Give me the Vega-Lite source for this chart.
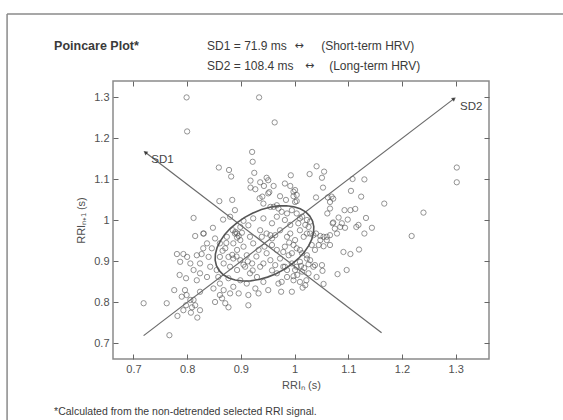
{
  "$schema": "https://vega.github.io/schema/vega-lite/v6.json",
  "autosize": "none",
  "width": 376,
  "height": 278,
  "padding": {"left": 113, "top": 81, "right": 74, "bottom": 61},
  "background": "white",
  "config": {
    "view": {"stroke": "#8a8a8a", "strokeWidth": 1.5},
    "font": "Liberation Sans",
    "axis": {"grid": false, "domain": false, "tickColor": "#666", "tickSize": -5, "tickWidth": 1, "labelFont": "Liberation Sans", "labelFontSize": 11, "labelColor": "#505050", "titleFont": "Liberation Sans", "titleFontSize": 11, "titleFontWeight": "normal", "titleColor": "#505050", "labelPadding": 9}
  },
  "datasets": {
    "points": [
      {"x":0.799,"y":1.300},{"x":0.934,"y":1.300},{"x":0.800,"y":1.217},{"x":0.963,"y":1.239},{"x":0.921,"y":1.167},{"x":0.922,"y":1.143},{"x":0.925,"y":1.116},{"x":0.859,"y":1.129},{"x":0.878,"y":1.123},{"x":0.882,"y":1.107},{"x":0.918,"y":1.097},{"x":0.918,"y":1.080},{"x":0.927,"y":1.076},{"x":0.936,"y":1.093},{"x":0.948,"y":1.104},{"x":0.943,"y":1.084},{"x":0.961,"y":1.084},{"x":0.982,"y":1.090},{"x":0.993,"y":1.110},{"x":0.992,"y":1.084},{"x":1.001,"y":1.074},{"x":1.028,"y":1.113},{"x":1.041,"y":1.132},{"x":1.051,"y":1.104},{"x":1.055,"y":1.119},{"x":1.053,"y":1.080},{"x":1.040,"y":1.056},{"x":1.062,"y":1.056},{"x":0.935,"y":1.054},{"x":0.940,"y":1.058},{"x":0.953,"y":1.069},{"x":0.973,"y":1.059},{"x":0.984,"y":1.050},{"x":0.998,"y":1.059},{"x":1.004,"y":1.047},{"x":0.860,"y":1.047},{"x":0.884,"y":1.050},{"x":0.889,"y":1.025},{"x":0.812,"y":1.006},{"x":0.848,"y":0.982},{"x":0.831,"y":0.968},{"x":0.867,"y":1.002},{"x":0.880,"y":1.009},{"x":0.905,"y":0.999},{"x":0.923,"y":1.005},{"x":0.942,"y":1.005},{"x":0.955,"y":1.033},{"x":0.967,"y":1.037},{"x":0.976,"y":1.021},{"x":0.986,"y":1.017},{"x":0.995,"y":1.025},{"x":1.010,"y":1.005},{"x":1.026,"y":0.984},{"x":1.040,"y":0.968},{"x":1.054,"y":0.960},{"x":0.893,"y":0.968},{"x":0.899,"y":0.984},{"x":0.914,"y":0.988},{"x":0.936,"y":0.976},{"x":0.955,"y":0.964},{"x":0.973,"y":0.976},{"x":0.992,"y":0.968},{"x":1.010,"y":0.976},{"x":0.917,"y":0.960},
      {"x":1.302,"y":1.129},{"x":1.302,"y":1.093},{"x":1.072,"y":1.053},{"x":1.066,"y":1.029},{"x":1.061,"y":1.017},{"x":1.108,"y":1.101},{"x":1.130,"y":1.100},{"x":1.105,"y":1.072},{"x":1.124,"y":1.058},{"x":1.167,"y":1.041},{"x":1.240,"y":1.019},{"x":1.218,"y":0.962},{"x":1.093,"y":1.025},{"x":1.104,"y":1.025},{"x":1.113,"y":1.028},{"x":1.099,"y":1.002},{"x":1.082,"y":1.007},{"x":1.071,"y":0.993},{"x":1.133,"y":1.006},{"x":1.085,"y":0.984},{"x":1.094,"y":0.982},{"x":1.075,"y":0.980},{"x":1.115,"y":0.984},{"x":1.144,"y":0.982},{"x":1.130,"y":0.968},{"x":1.079,"y":0.968},{"x":1.048,"y":0.962},{"x":1.023,"y":1.001},{"x":1.007,"y":0.993},
      {"x":1.091,"y":0.923},{"x":1.104,"y":0.918},{"x":1.120,"y":0.929},{"x":1.080,"y":0.869},{"x":1.097,"y":0.879},{"x":1.054,"y":0.845},{"x":1.015,"y":0.836},{"x":1.051,"y":0.891},{"x":1.052,"y":0.877},{"x":1.038,"y":0.891},{"x":1.026,"y":0.893},{"x":1.022,"y":0.854},{"x":1.005,"y":0.867},{"x":0.998,"y":0.864},{"x":0.986,"y":0.862},{"x":0.975,"y":0.826},{"x":1.060,"y":0.960},{"x":1.045,"y":0.940},{"x":1.054,"y":0.937},{"x":1.060,"y":0.952},{"x":0.998,"y":0.940},{"x":1.004,"y":0.932},{"x":1.014,"y":0.920},{"x":1.023,"y":0.915},{"x":1.029,"y":0.903},{"x":1.010,"y":0.899},{"x":0.979,"y":0.923},{"x":0.989,"y":0.915},{"x":0.995,"y":0.895},{"x":0.979,"y":0.887},{"x":0.986,"y":0.879},{"x":1.001,"y":0.879},{"x":1.014,"y":0.875},{"x":1.023,"y":0.968},{"x":1.035,"y":0.964},
      {"x":0.719,"y":0.798},{"x":0.762,"y":0.798},{"x":0.767,"y":0.720},{"x":0.781,"y":0.918},{"x":0.793,"y":0.918},{"x":0.776,"y":0.830},{"x":0.786,"y":0.867},{"x":0.798,"y":0.859},{"x":0.790,"y":0.814},{"x":0.799,"y":0.818},{"x":0.806,"y":0.806},{"x":0.796,"y":0.830},{"x":0.798,"y":0.793},{"x":0.793,"y":0.781},{"x":0.782,"y":0.767},{"x":0.812,"y":0.806},{"x":0.824,"y":0.781},{"x":0.819,"y":0.763},{"x":0.815,"y":0.793},{"x":0.809,"y":0.788},{"x":0.807,"y":0.775},{"x":0.818,"y":0.915},{"x":0.827,"y":0.918},{"x":0.812,"y":0.879},{"x":0.824,"y":0.871},{"x":0.818,"y":0.854},{"x":0.824,"y":0.826},{"x":0.830,"y":0.968},{"x":0.837,"y":0.944},{"x":0.846,"y":0.932},{"x":0.830,"y":0.932},{"x":0.840,"y":0.911},{"x":0.824,"y":0.895},{"x":0.843,"y":0.887},{"x":0.837,"y":0.862},{"x":0.852,"y":0.956},{"x":0.861,"y":0.944},{"x":0.874,"y":0.960},{"x":0.871,"y":0.932},{"x":0.861,"y":0.911},{"x":0.877,"y":0.911},{"x":0.868,"y":0.895},{"x":0.880,"y":0.887},{"x":0.855,"y":0.879},{"x":0.858,"y":0.862},{"x":0.877,"y":0.859},{"x":0.861,"y":0.846},{"x":0.849,"y":0.834},{"x":0.868,"y":0.830},{"x":0.880,"y":0.822},{"x":0.852,"y":0.801},{"x":0.865,"y":0.810},{"x":0.871,"y":0.798},{"x":0.877,"y":0.788},{"x":0.861,"y":0.818},
      {"x":0.889,"y":0.968},{"x":0.886,"y":0.944},{"x":0.899,"y":0.952},{"x":0.893,"y":0.928},{"x":0.905,"y":0.936},{"x":0.886,"y":0.907},{"x":0.899,"y":0.903},{"x":0.911,"y":0.915},{"x":0.893,"y":0.879},{"x":0.908,"y":0.887},{"x":0.917,"y":0.871},{"x":0.899,"y":0.854},{"x":0.911,"y":0.846},{"x":0.886,"y":0.838},{"x":0.896,"y":0.822},{"x":0.914,"y":0.818},{"x":0.914,"y":0.793},{"x":0.923,"y":0.944},{"x":0.933,"y":0.928},{"x":0.921,"y":0.895},{"x":0.936,"y":0.887},{"x":0.930,"y":0.862},{"x":0.927,"y":0.834},{"x":0.942,"y":0.850},{"x":0.933,"y":0.822},{"x":0.951,"y":0.830},{"x":0.942,"y":0.895},{"x":0.955,"y":0.903},{"x":0.948,"y":0.920},{"x":0.958,"y":0.940},{"x":0.939,"y":0.960},{"x":0.948,"y":0.968},{"x":0.964,"y":0.964},{"x":0.967,"y":0.928},{"x":0.973,"y":0.907},{"x":0.964,"y":0.891},{"x":0.982,"y":0.887},{"x":0.967,"y":0.871},{"x":0.976,"y":0.850},{"x":0.970,"y":0.846},{"x":0.998,"y":0.854},{"x":1.010,"y":0.850},{"x":0.995,"y":0.826},{"x":1.004,"y":0.887},{"x":1.023,"y":0.907},{"x":1.035,"y":0.887},{"x":1.026,"y":0.871},{"x":1.041,"y":0.862},{"x":1.020,"y":0.842},{"x":1.038,"y":0.928},{"x":1.048,"y":0.952},{"x":1.032,"y":0.940},{"x":1.066,"y":0.940},{"x":1.066,"y":0.964},{"x":1.017,"y":0.960},{"x":1.001,"y":0.952},{"x":0.986,"y":0.960},{"x":0.982,"y":0.936},{"x":0.995,"y":0.920},{"x":1.010,"y":0.928},{"x":1.029,"y":0.968},{"x":0.800,"y":0.911},{"x":0.787,"y":0.899},{"x":0.806,"y":0.895},{"x":0.815,"y":0.962},
      {"x":0.942,"y":1.041},{"x":0.951,"y":1.066},{"x":0.951,"y":1.098},{"x":0.998,"y":1.070},{"x":1.004,"y":1.062},{"x":1.001,"y":1.045},{"x":1.069,"y":1.058},{"x":1.066,"y":1.045},{"x":1.072,"y":0.995},{"x":1.088,"y":0.993},{"x":1.119,"y":0.989},{"x":0.961,"y":1.033},{"x":0.970,"y":1.029},{"x":0.967,"y":1.009},{"x":0.958,"y":0.993},{"x":0.982,"y":1.001},{"x":0.992,"y":0.989},{"x":1.004,"y":1.017},{"x":1.014,"y":1.009},{"x":1.020,"y":0.989},{"x":1.029,"y":0.997},
      {"x":0.890,"y":0.972},{"x":0.896,"y":0.962},{"x":0.885,"y":0.976},{"x":0.902,"y":0.970},{"x":0.893,"y":0.958},
      {"x":0.884,"y":0.916},{"x":0.892,"y":0.912},{"x":0.905,"y":0.892},{"x":0.913,"y":0.900},{"x":0.922,"y":0.878},{"x":1.018,"y":0.884},{"x":1.012,"y":0.889},{"x":0.958,"y":0.956},{"x":0.944,"y":0.936},{"x":0.929,"y":0.912},{"x":0.873,"y":0.945},{"x":0.866,"y":0.926},{"x":0.958,"y":0.878},{"x":0.990,"y":0.946}
    ],
    "ellipse": [
      {"o":0,"x":1.0207,"y":1.0207},{"o":1,"x":1.0106,"y":1.0283},{"o":2,"x":0.9986,"y":1.0334},{"o":3,"x":0.9850,"y":1.0358},{"o":4,"x":0.9700,"y":1.0354},{"o":5,"x":0.9543,"y":1.0322},{"o":6,"x":0.9383,"y":1.0264},{"o":7,"x":0.9225,"y":1.0180},{"o":8,"x":0.9072,"y":1.0074},{"o":9,"x":0.8932,"y":0.9948},{"o":10,"x":0.8806,"y":0.9807},{"o":11,"x":0.8700,"y":0.9656},{"o":12,"x":0.8617,"y":0.9497},{"o":13,"x":0.8558,"y":0.9337},{"o":14,"x":0.8526,"y":0.9180},{"o":15,"x":0.8522,"y":0.9030},{"o":16,"x":0.8546,"y":0.8894},{"o":17,"x":0.8597,"y":0.8774},{"o":18,"x":0.8674,"y":0.8674},{"o":19,"x":0.8774,"y":0.8597},{"o":20,"x":0.8894,"y":0.8546},{"o":21,"x":0.9030,"y":0.8522},{"o":22,"x":0.9180,"y":0.8526},{"o":23,"x":0.9337,"y":0.8558},{"o":24,"x":0.9497,"y":0.8617},{"o":25,"x":0.9656,"y":0.8700},{"o":26,"x":0.9807,"y":0.8806},{"o":27,"x":0.9948,"y":0.8932},{"o":28,"x":1.0074,"y":0.9072},{"o":29,"x":1.0180,"y":0.9225},{"o":30,"x":1.0264,"y":0.9383},{"o":31,"x":1.0322,"y":0.9543},{"o":32,"x":1.0354,"y":0.9700},{"o":33,"x":1.0358,"y":0.9850},{"o":34,"x":1.0334,"y":0.9986},{"o":35,"x":1.0283,"y":1.0106},{"o":36,"x":1.0207,"y":1.0207}
    ],
    "axes": [
      {"line":"SD1","o":0,"x":0.722,"y":1.166},{"line":"SD1","o":1,"x":1.162,"y":0.726},
      {"line":"SD2","o":0,"x":0.719,"y":0.719},{"line":"SD2","o":1,"x":1.297,"y":1.297}
    ],
    "tips": [
      {"label":"SD1","x":0.722,"y":1.166},{"label":"SD2","x":1.297,"y":1.297}
    ]
  },
  "resolve": {"axis": {"x": "independent", "y": "independent"}},
  "layer": [
    {
      "data": {"values": [{"k": 1}]},
      "mark": {"type": "rule", "stroke": "#8a8a8a", "strokeWidth": 1.5, "clip": false},
      "encoding": {
        "x": {"datum": 0.4648, "type": "quantitative", "scale": {"domain": [0.662, 1.362], "nice": false, "zero": false}, "axis": {"orient": "bottom", "values": [0.7,0.8,0.9,1,1.1,1.2,1.3], "format": "~g", "title": "RRIₙ (s)", "titlePadding": 5}},
        "y": {"datum": 1.5032, "type": "quantitative", "scale": {"domain": [0.662, 1.34], "nice": false, "zero": false}, "axis": {"orient": "left", "values": [0.7,0.8,0.9,1,1.1,1.2,1.3], "format": "~g", "title": "RRIₙ₊₁ (s)", "titlePadding": 7}},
        "y2": {"datum": 0.4934}
      }
    },
    {
      "data": {"values": [{"k": 1}]},
      "mark": {"type": "rule", "stroke": "#8a8a8a", "strokeWidth": 1.5, "clip": false},
      "encoding": {
        "x": {"datum": 0.4648, "type": "quantitative", "axis": null},
        "x2": {"datum": 1.513},
        "y": {"datum": 1.5032, "type": "quantitative", "axis": null}
      }
    },
    {
      "data": {"name": "points"},
      "mark": {"type": "point", "shape": "circle", "filled": false, "stroke": "#555", "strokeWidth": 0.9, "size": 28},
      "encoding": {
        "x": {"field": "x", "type": "quantitative", "axis": {"orient": "top", "values": [0.7,0.8,0.9,1,1.1,1.2,1.3], "labels": false, "title": null}},
        "y": {"field": "y", "type": "quantitative", "axis": {"orient": "right", "values": [0.7,0.8,0.9,1,1.1,1.2,1.3], "labels": false, "title": null}}
      }
    },
    {
      "data": {"name": "axes"},
      "mark": {"type": "line", "stroke": "#6a6a6a", "strokeWidth": 1.2},
      "encoding": {
        "x": {"field": "x", "type": "quantitative", "axis": null},
        "y": {"field": "y", "type": "quantitative", "axis": null},
        "detail": {"field": "line"},
        "order": {"field": "o"}
      }
    },
    {
      "data": {"name": "ellipse"},
      "mark": {"type": "line", "stroke": "#555", "strokeWidth": 1.6},
      "encoding": {
        "x": {"field": "x", "type": "quantitative", "axis": null},
        "y": {"field": "y", "type": "quantitative", "axis": null},
        "order": {"field": "o"}
      }
    },
    {
      "data": {"name": "tips"},
      "transform": [{"filter": "datum.label === 'SD1'"}],
      "mark": {"type": "point", "shape": "triangle-up", "filled": true, "color": "#111", "size": 22, "angle": 307},
      "encoding": {
        "x": {"field": "x", "type": "quantitative", "axis": null},
        "y": {"field": "y", "type": "quantitative", "axis": null}
      }
    },
    {
      "data": {"name": "tips"},
      "transform": [{"filter": "datum.label === 'SD2'"}],
      "mark": {"type": "point", "shape": "triangle-up", "filled": true, "color": "#111", "size": 22, "angle": 53},
      "encoding": {
        "x": {"field": "x", "type": "quantitative", "axis": null},
        "y": {"field": "y", "type": "quantitative", "axis": null}
      }
    },
    {
      "data": {"name": "tips"},
      "mark": {"type": "text", "align": "left", "baseline": "middle", "dx": 6, "dy": 8, "fontSize": 11.5, "color": "#444", "font": "Liberation Sans"},
      "encoding": {
        "x": {"field": "x", "type": "quantitative", "axis": null},
        "y": {"field": "y", "type": "quantitative", "axis": null},
        "text": {"field": "label"}
      }
    },
    {
      "data": {"values": [{"t": "Poincare Plot*"}]},
      "mark": {"type": "text", "align": "left", "baseline": "middle", "fontSize": 12.5, "fontWeight": "bold", "color": "#3a3a3a", "font": "Liberation Sans", "clip": false},
      "encoding": {
        "x": {"datum": 0.5523, "type": "quantitative", "axis": null},
        "y": {"datum": 1.4251, "type": "quantitative", "axis": null},
        "text": {"field": "t"}
      }
    },
    {
      "data": {"values": [{"t": "SD1 = 71.9 ms"}]},
      "mark": {"type": "text", "align": "left", "baseline": "middle", "fontSize": 12, "color": "#3a3a3a", "font": "Liberation Sans", "clip": false},
      "encoding": {
        "x": {"datum": 0.8372, "type": "quantitative", "axis": null},
        "y": {"datum": 1.4251, "type": "quantitative", "axis": null},
        "text": {"field": "t"}
      }
    },
    {
      "data": {"values": [{"t": "↔"}]},
      "mark": {"type": "text", "align": "center", "baseline": "middle", "fontSize": 11, "color": "#3a3a3a", "font": "DejaVu Sans", "clip": false},
      "encoding": {
        "x": {"datum": 1.0086, "type": "quantitative", "axis": null},
        "y": {"datum": 1.4251, "type": "quantitative", "axis": null},
        "text": {"field": "t"}
      }
    },
    {
      "data": {"values": [{"t": "(Short-term HRV)"}]},
      "mark": {"type": "text", "align": "left", "baseline": "middle", "fontSize": 12, "color": "#3a3a3a", "font": "Liberation Sans", "clip": false},
      "encoding": {
        "x": {"datum": 1.0495, "type": "quantitative", "axis": null},
        "y": {"datum": 1.4251, "type": "quantitative", "axis": null},
        "text": {"field": "t"}
      }
    },
    {
      "data": {"values": [{"t": "SD2 = 108.4 ms"}]},
      "mark": {"type": "text", "align": "left", "baseline": "middle", "fontSize": 12, "color": "#3a3a3a", "font": "Liberation Sans", "clip": false},
      "encoding": {
        "x": {"datum": 0.8372, "type": "quantitative", "axis": null},
        "y": {"datum": 1.3760, "type": "quantitative", "axis": null},
        "text": {"field": "t"}
      }
    },
    {
      "data": {"values": [{"t": "↔"}]},
      "mark": {"type": "text", "align": "center", "baseline": "middle", "fontSize": 11, "color": "#3a3a3a", "font": "DejaVu Sans", "clip": false},
      "encoding": {
        "x": {"datum": 1.0281, "type": "quantitative", "axis": null},
        "y": {"datum": 1.3760, "type": "quantitative", "axis": null},
        "text": {"field": "t"}
      }
    },
    {
      "data": {"values": [{"t": "(Long-term HRV)"}]},
      "mark": {"type": "text", "align": "left", "baseline": "middle", "fontSize": 12, "color": "#3a3a3a", "font": "Liberation Sans", "clip": false},
      "encoding": {
        "x": {"datum": 1.0644, "type": "quantitative", "axis": null},
        "y": {"datum": 1.3760, "type": "quantitative", "axis": null},
        "text": {"field": "t"}
      }
    },
    {
      "data": {"values": [{"t": "*Calculated from the non-detrended selected RRI signal."}]},
      "mark": {"type": "text", "align": "left", "baseline": "middle", "fontSize": 10.5, "color": "#3a3a3a", "font": "Liberation Sans", "clip": false},
      "encoding": {
        "x": {"datum": 0.5523, "type": "quantitative", "axis": null},
        "y": {"datum": 0.5324, "type": "quantitative", "axis": null},
        "text": {"field": "t"}
      }
    }
  ]
}
